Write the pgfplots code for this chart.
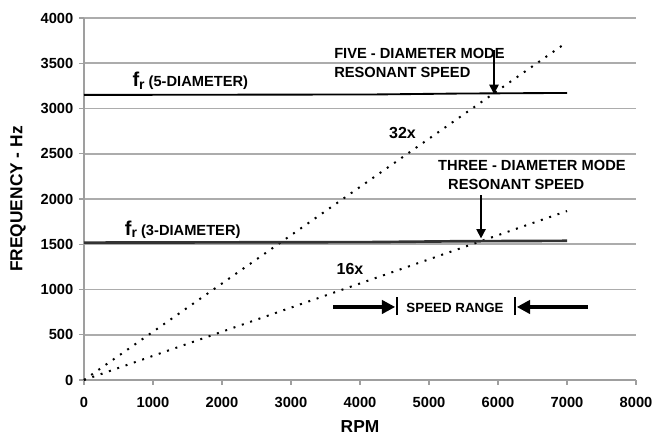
\documentclass[border=0pt]{standalone}
\usepackage{pgfplots}
\pgfplotsset{compat=1.18}
\usetikzlibrary{arrows.meta}
\usepackage{fontspec}
\setmainfont{Liberation Sans}
\begin{document}
\begin{tikzpicture}
\begin{axis}[
  scale only axis,
  width=414pt, height=271.5pt,
  xmin=0, xmax=8000, ymin=0, ymax=4000,
  xtick={0,1000,...,8000}, ytick={0,500,...,4000},
  axis x line=bottom, axis y line=left,
  axis line style={draw=gray!75, line width=1.3pt, -},
  tick align=outside, major tick length=3.5pt,
  tick style={draw=gray!75, line width=0.9pt},
  ymajorgrids,
  grid style={draw=gray!65, line width=1.3pt},
  /pgf/number format/assume math mode=true,
  /pgf/number format/set thousands separator={},
  ticklabel style={font=\fontsize{11}{13}\selectfont\bfseries},
  xticklabel style={anchor=center, yshift=-13pt},
  yticklabel style={anchor=east, xshift=-1pt},
  xlabel={\bfseries RPM}, ylabel={\bfseries FREQUENCY - Hz},
  label style={font=\fontsize{13}{15}\selectfont},
  xlabel style={at={(axis description cs:0.5,-0.1298)}, anchor=center},
  ylabel style={at={(axis description cs:-0.1196,0.5)}, anchor=center, rotate=0},
  clip=false,
]
\coordinate (sw) at (rel axis cs:0,0);
\coordinate (ne) at (rel axis cs:1,1);
% 32x and 16x order lines
\addplot[black, line width=1.5pt, dash pattern=on 1.5pt off 5.1pt] coordinates {(0,0) (7000,3733)};
\addplot[black, line width=1.5pt, dash pattern=on 1.5pt off 5.1pt] coordinates {(0,0) (7000,1867)};
% resonant frequencies
\addplot[black, line width=1.4pt] coordinates {(0,3150) (4200,3155) (5400,3165) (7000,3172)};
\addplot[black!80, line width=2pt] coordinates {(0,1518) (4200,1524) (5400,1533) (7000,1538)};
% annotations
\node[font=\fontsize{15}{16}\selectfont\bfseries, anchor=base west, inner sep=0pt] at (axis cs:700,3238) {f\textsubscript{r}\,\fontsize{11}{12}\selectfont(5-DIAMETER)};
\node[font=\fontsize{15}{16}\selectfont\bfseries, anchor=base west, inner sep=0pt] at (axis cs:590,1602) {f\textsubscript{r}\,\fontsize{11}{12}\selectfont(3-DIAMETER)};
\node[font=\fontsize{11}{12}\selectfont\bfseries, anchor=base west, inner sep=0pt] at (axis cs:3623,3547) {FIVE - DIAMETER MODE};
\node[font=\fontsize{11}{12}\selectfont\bfseries, anchor=base west, inner sep=0pt] at (axis cs:3623,3337) {RESONANT SPEED};
\node[font=\fontsize{11}{12}\selectfont\bfseries, anchor=base west, inner sep=0pt] at (axis cs:5130,2320) {THREE - DIAMETER MODE};
\node[font=\fontsize{11}{12}\selectfont\bfseries, anchor=base west, inner sep=0pt] at (axis cs:5275,2110) {RESONANT SPEED};
\draw[-{Triangle[length=7pt,width=7pt]}, line width=1.2pt] (axis cs:5942,3646) -- (axis cs:5942,3160);
\draw[-{Triangle[length=7pt,width=7pt]}, line width=1.2pt] (axis cs:5754,2044) -- (axis cs:5754,1565);
\node[font=\fontsize{12}{13}\selectfont\bfseries] at (axis cs:4616,2729) {32x};
\node[font=\fontsize{12}{13}\selectfont\bfseries] at (axis cs:3855,1226) {16x};
\node[font=\fontsize{10}{11}\selectfont\bfseries, anchor=base, inner sep=0pt] at (axis cs:5377,751) {SPEED RANGE};
\draw[-{Triangle[length=10pt,width=10pt]}, line width=2.6pt] (axis cs:3609,807) -- (axis cs:4510,807);
\draw[line width=1pt] (axis cs:4536,718) -- (axis cs:4536,917);
\draw[-{Triangle[length=10pt,width=10pt]}, line width=2.6pt] (axis cs:7304,807) -- (axis cs:6272,807);
\draw[line width=1pt] (axis cs:6246,718) -- (axis cs:6246,917);
\end{axis}
\pgfresetboundingbox
\path ([shift={(-63pt,-45.75pt)}]sw) rectangle ([shift={(14.25pt,13.5pt)}]ne);
\end{tikzpicture}
\end{document}
